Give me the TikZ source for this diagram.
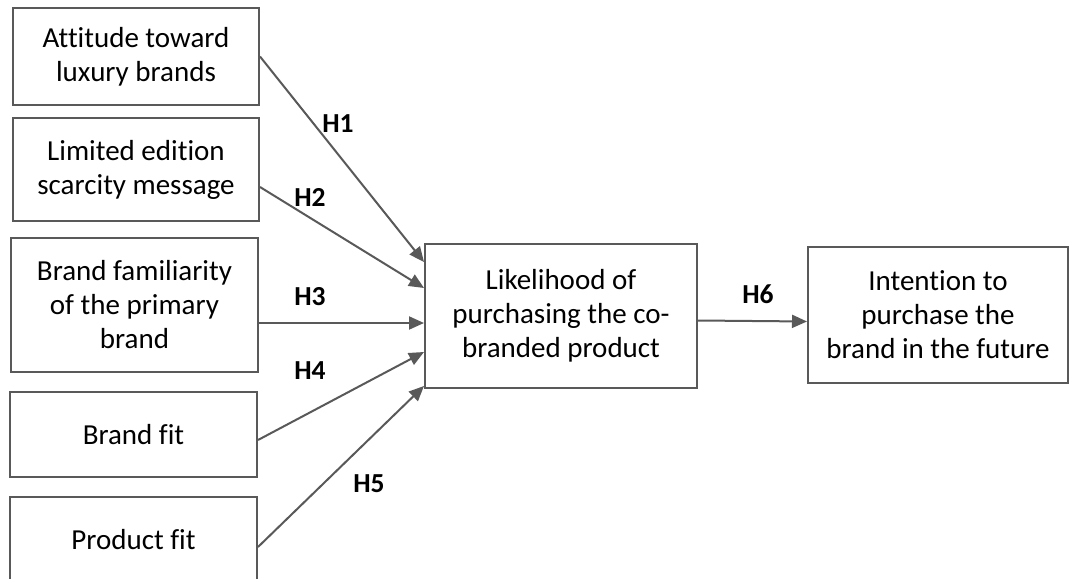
\documentclass[tikz,border=0pt]{standalone}
\usepackage{fontspec}
\setmainfont{Carlito}[Ligatures=NoCommon]
\usetikzlibrary{arrows.meta}
\definecolor{linegray}{HTML}{595959}
\tikzset{
  box/.style={draw=linegray, line width=2pt, align=center, inner sep=0pt,
    font=\fontsize{29}{34}\selectfont, text=black},
  conn/.style={draw=linegray, line width=2pt, -{Triangle[length=15pt,width=13pt]}},
  hlabel/.style={font=\fontsize{27.5}{30}\selectfont\bfseries, anchor=base, inner sep=0pt, text=black}
}
\begin{document}
\begin{tikzpicture}[x=1pt,y=-1pt]
\useasboundingbox (0,0) rectangle (1070,578);
% left boxes
\node[box, minimum width=246pt, minimum height=97pt]  (b1) at (136,56.5) {Attitude toward\\luxury brands};
\node[box, minimum width=246pt, minimum height=103pt] (b2) at (136,169.5) {Limited edition\\scarcity message};
\node[box, minimum width=247pt, minimum height=134pt] (b3) at (134.5,305) {Brand familiarity\\of the primary\\brand};
\node[box, minimum width=247pt, minimum height=85pt]  (b4) at (133.5,434.5) {Brand fit};
\node[box, minimum width=247pt, minimum height=85pt]  (b5) at (133.5,539.5) {Product fit};
% center and right boxes
\node[box, minimum width=272pt, minimum height=144pt] (c) at (561,316) {Likelihood of\\purchasing the co-\\branded product};
\node[box, minimum width=260pt, minimum height=136pt] (r) at (938,315) {Intention to\\purchase the\\brand in the future};
% connectors
\draw[conn] (b1.east) -- ([yshift=54pt]c.west);
\draw[conn] ([yshift=-17.5pt]b2.east) -- ([yshift=28pt]c.west);
\draw[conn] ([yshift=-18pt]b3.east) -- ([yshift=-7pt]c.west);
\draw[conn] ([yshift=-5.5pt]b4.east) -- ([yshift=-36pt]c.west);
\draw[conn] ([yshift=-7.5pt]b5.east) -- ([yshift=-70pt]c.west);
\draw[conn] ([yshift=-4.5pt]c.east) -- ([yshift=-6.5pt]r.west);
% labels
\node[hlabel] (h1) at (338,132) {H1};
\node[hlabel] (h2) at (310,206) {H2};
\node[hlabel] (h3) at (310,305) {H3};
\node[hlabel] (h4) at (310,379) {H4};
\node[hlabel] (h5) at (369,492) {H5};
\node[hlabel] (h6) at (758,303) {H6};
\end{tikzpicture}
\end{document}
